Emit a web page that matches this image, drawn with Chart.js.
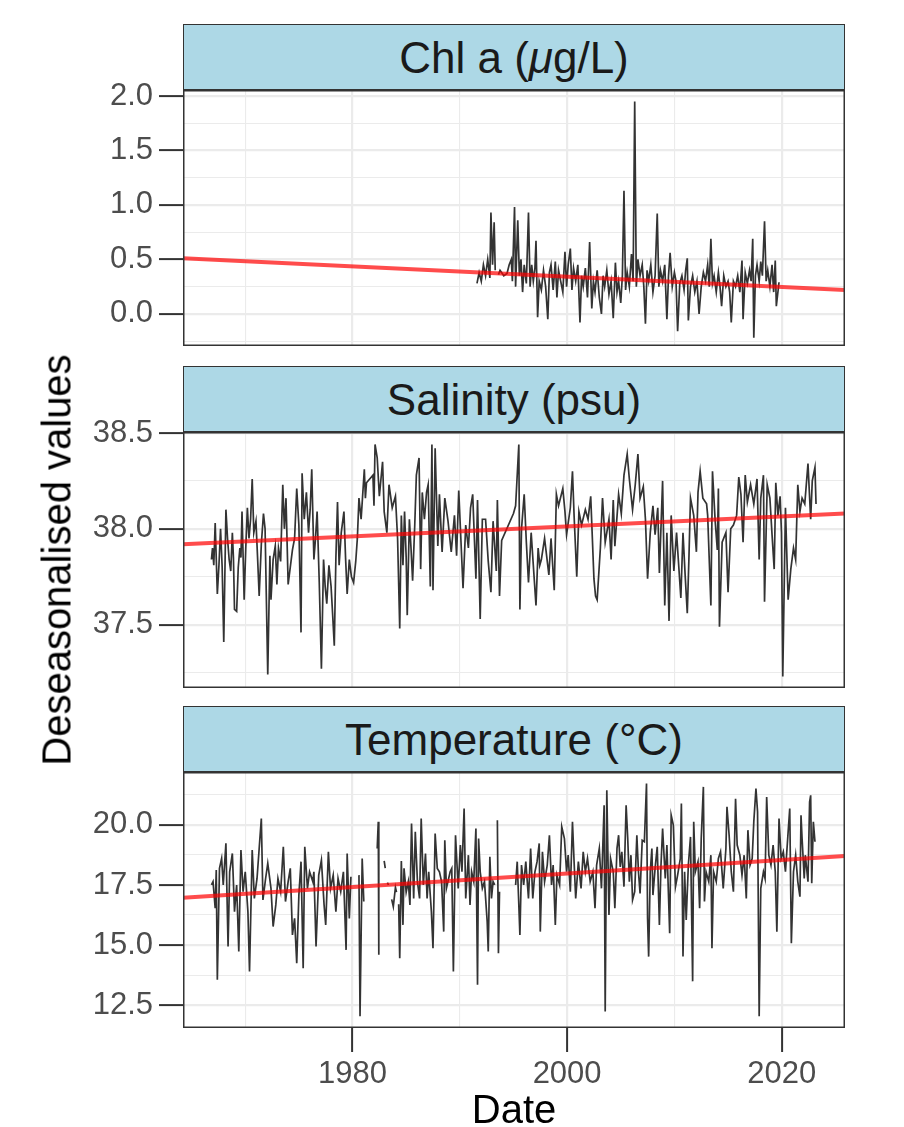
<!DOCTYPE html>
<html>
<head>
<meta charset="utf-8">
<script src="https://cdn.jsdelivr.net/npm/chart.js@4.4.1/dist/chart.umd.min.js"></script>
<style>
  body { margin: 0; background: #fff; }
  #wrap { position: relative; width: 904px; height: 1127px; overflow: hidden;
          font-family: "Liberation Sans", Arial, Helvetica, sans-serif; }
  .strip { position: absolute; left: 183px; width: 662px; height: 66px; box-sizing: border-box;
           background: #ADD8E6; border: 1.5px solid #333; color: #1A1A1A;
           font-size: 44px; line-height: 63px; padding-top: 1px; text-align: center; }
  .panel { position: absolute; left: 0; }
  #ytitle { position: absolute; left: 57px; top: 560px; transform: translate(-50%, -50%) rotate(-90deg);
            font-size: 40px; white-space: nowrap; color: #000; }
</style>
</head>
<body>
<div id="wrap">
  <div class="strip" style="top:24px">Chl a (<i>μ</i>g/L)</div>
  <canvas class="panel" id="chl" width="904" height="286" style="top:60px"></canvas>
  <div class="strip" style="top:366px">Salinity (psu)</div>
  <canvas class="panel" id="sal" width="904" height="286" style="top:402px"></canvas>
  <div class="strip" style="top:706px">Temperature (°C)</div>
  <canvas class="panel" id="temp" width="904" height="385" style="top:742px"></canvas>
  <div id="ytitle">Deseasonalised values</div>
</div>
<script>
// x axis (decimal years)
const xMin = 1964.2, xMax = 2025.9
const xGrid = [1970, 1980, 1990, 2000, 2010, 2020]
const xLabels = [1980, 2000, 2020]
const trendYears = [1964.2, 2025.9]

// Chl a
const chlTicks = [-0.25, 0, 0.25, 0.5, 0.75, 1, 1.25, 1.5, 1.75, 2]
const chlLabels = [0, 0.5, 1, 1.5, 2]
const chlTrend = [0.51, 0.22]
const chlYears = [1991.6, 1991.8, 1992.0, 1992.2, 1992.4, 1992.6, 1992.8, 1992.9, 1993.05, 1993.2, 1993.3, 1993.45,
  1993.6, 1993.75, 1994.1, 1994.4, 1994.6, 1994.8, 1994.9, 1995.1, 1995.2, 1995.4, 1995.55, 1995.7, 1995.85,
  1996.0, 1996.2, 1996.4, 1996.55, 1996.7, 1996.85, 1997.0, 1997.1, 1997.25, 1997.4, 1997.6, 1997.8, 1998.0,
  1998.2, 1998.35, 1998.5, 1998.7, 1998.9, 1999.05, 1999.2, 1999.4, 1999.6, 1999.8, 1999.95, 2000.1, 2000.3,
  2000.45, 2000.6, 2000.8, 2001.0, 2001.2, 2001.35, 2001.5, 2001.7, 2001.9, 2002.1, 2002.3, 2002.45, 2002.6,
  2002.8, 2003.0, 2003.2, 2003.35, 2003.5, 2003.7, 2003.9, 2004.1, 2004.3, 2004.5, 2004.65, 2004.8, 2005.0,
  2005.15, 2005.3, 2005.45, 2005.6, 2005.8, 2006.0, 2006.15, 2006.3, 2006.45, 2006.6, 2006.8, 2007.0, 2007.15,
  2007.3, 2007.45, 2007.6, 2007.8, 2008.0, 2008.2, 2008.4, 2008.55, 2008.7, 2008.9, 2009.1, 2009.3, 2009.45,
  2009.6, 2009.8, 2010.0, 2010.15, 2010.3, 2010.5, 2010.7, 2010.9, 2011.05, 2011.2, 2011.3, 2011.5, 2011.7,
  2011.9, 2012.1, 2012.3, 2012.5, 2012.7, 2012.9, 2013.1, 2013.25, 2013.4, 2013.55, 2013.7, 2013.9, 2014.1,
  2014.25, 2014.4, 2014.6, 2014.8, 2015.0, 2015.15, 2015.3, 2015.5, 2015.7, 2015.9, 2016.1, 2016.3, 2016.4,
  2016.6, 2016.8, 2017.0, 2017.15, 2017.3, 2017.4, 2017.55, 2017.7, 2017.9, 2018.05, 2018.2, 2018.4, 2018.55,
  2018.7, 2018.9, 2019.1, 2019.25, 2019.4, 2019.5, 2019.75]
const chlValues = [0.28, 0.38, 0.30, 0.45, 0.35, 0.50, 0.33, 0.93, 0.45, 0.84, 0.40, null,
  0.36, 0.40, 0.35, 0.37, 0.45, 0.50, 0.30, 0.98, 0.25, 0.86, 0.35, 0.50, 0.20,
  0.45, 0.28, 0.93, 0.25, 0.45, 0.30, 0.42, 0.67, -0.03, 0.30, 0.22, 0.40, 0.25,
  -0.05, 0.38, 0.45, 0.22, 0.48, 0.15, 0.40, 0.30, 0.20, 0.57, 0.25, 0.45, 0.60,
  0.22, 0.42, 0.30, 0.45, -0.08, 0.35, 0.25, 0.42, 0.15, 0.66, 0.05, 0.30, 0.20,
  0.40, 0.15, 0.00, 0.35, 0.25, 0.40, 0.18, 0.30, -0.04, 0.47, 0.20, 0.30, 0.10,
  0.35, 1.13, 0.22, 0.38, 0.25, 0.55, 0.30, 1.95, 0.25, 0.50, 0.35, 0.45, 0.25,
  -0.09, 0.40, 0.30, 0.45, 0.20, 0.35, 0.92, 0.25, 0.40, 0.30, 0.45, -0.05, 0.35,
  0.56, 0.25, 0.38, 0.30, -0.16, 0.28, 0.35, 0.22, 0.40, 0.51, -0.06, 0.25, 0.35,
  0.20, 0.30, 0.00, 0.25, 0.38, 0.30, 0.45, 0.25, 0.69, 0.28, 0.35, 0.20, 0.38,
  0.25, 0.07, 0.35, 0.25, 0.30, 0.20, -0.08, 0.30, 0.25, 0.35, 0.20, 0.49, -0.05,
  0.38, 0.28, 0.40, 0.30, 0.69, -0.22, 0.35, 0.45, 0.30, 0.48, 0.35, 0.85, 0.30,
  0.40, 0.25, 0.45, 0.20, 0.49, 0.07, 0.29]

// Salinity
const salTicks = [37.25, 37.5, 37.75, 38, 38.25, 38.5]
const salLabels = [37.5, 38, 38.5]
const salTrend = [37.92, 38.08]
const salYears = [1966.85, 1966.95, 1967.07, 1967.2, 1967.4, 1967.55, 1967.7, 1967.85, 1968.0, 1968.2, 1968.35,
  1968.5, 1968.65, 1968.8, 1968.9, 1969.0, 1969.2, 1969.35, 1969.5, 1969.6, 1969.7, 1969.9, 1970.05, 1970.2,
  1970.35, 1970.5, 1970.65, 1970.8, 1971.0, 1971.15, 1971.3, 1971.5, 1971.7, 1971.85, 1972.1, 1972.3, 1972.4,
  1972.6, 1972.8, 1972.95, 1973.1, 1973.3, 1973.5, 1973.65, 1973.8, 1974.0, 1974.2, 1974.4, 1974.6, 1974.8,
  1975.0, 1975.2, 1975.3, 1975.5, 1975.7, 1975.9, 1976.05, 1976.2, 1976.4, 1976.55, 1976.7, 1976.9, 1977.1,
  1977.3, 1977.45, 1977.6, 1977.8, 1978.0, 1978.15, 1978.3, 1978.45, 1978.6, 1978.75, 1978.95, 1979.2, 1979.35,
  1979.5, 1979.7, 1979.9, 1980.1, 1980.3, 1980.45, 1980.6, 1980.8, 1981.1, 1981.2, 1981.3, 1981.9, 1982.0,
  1982.1, 1982.3, 1982.5, 1982.8, 1982.95, 1983.2, 1983.4, 1983.7, 1984.0, 1984.2, 1984.4, 1984.55, 1984.7,
  1984.85, 1985.0, 1985.1, 1985.3, 1985.45, 1985.6, 1985.8, 1985.95, 1986.2, 1986.35, 1986.5, 1986.7, 1986.9,
  1987.05, 1987.25, 1987.4, 1987.5, 1987.7, 1987.95, 1988.1, 1988.35, 1988.6, 1988.9, 1989.2, 1989.5, 1989.7,
  1989.9, 1990.3, 1990.55, 1990.8, 1991.0, 1991.2, 1991.5, 1991.65, 1991.9, 1992.1, 1992.4, 1992.65, 1992.9,
  1993.1, 1993.4, 1993.5, 1993.7, 1993.9, 1995.0, 1995.2, 1995.5, 1995.6, 1995.75, 1996.0, 1996.2, 1996.4,
  1996.65, 1996.85, 1997.1, 1997.3, 1997.45, 1997.6, 1997.9, 1998.3, 1998.5, 1998.8, 1999.0, 1999.2, 1999.6,
  1999.8, 1999.95, 2000.3, 2000.5, 2000.65, 2000.9, 2001.1, 2001.35, 2001.7, 2001.95, 2002.2, 2002.5, 2002.65,
  2002.8, 2003.1, 2003.3, 2003.55, 2003.9, 2004.1, 2004.3, 2004.45, 2004.8, 2005.05, 2005.3, 2005.6, 2005.8,
  2006.1, 2006.35, 2006.6, 2006.8, 2007.1, 2007.3, 2007.5, 2007.75, 2008.0, 2008.2, 2008.45, 2008.6, 2008.9,
  2009.1, 2009.3, 2009.5, 2009.7, 2009.95, 2010.2, 2010.4, 2010.6, 2010.8, 2011.0, 2011.2, 2011.35, 2011.5,
  2011.8, 2012.05, 2012.2, 2012.4, 2012.65, 2013.0, 2013.1, 2013.4, 2013.55, 2013.8, 2014.0, 2014.1, 2014.2,
  2014.45, 2014.8, 2015.0, 2015.25, 2015.5, 2015.8, 2016.0, 2016.2, 2016.4, 2016.6, 2016.8, 2017.1, 2017.4,
  2017.7, 2017.9, 2018.05, 2018.3, 2018.4, 2018.65, 2018.9, 2019.1, 2019.3, 2019.45, 2019.65, 2019.85, 2019.98,
  2020.1, 2020.35, 2020.6, 2020.85, 2021.1, 2021.3, 2021.5, 2021.7, 2021.9, 2022.15, 2022.45, 2022.7, 2022.85,
  2023.1, 2023.2]
const salValues = [37.84, 37.90, 37.81, 38.03, 37.66, 37.81, 38.00, 37.80, 37.41, 38.10, 37.95,
  37.84, 37.78, 37.98, 37.85, 37.58, 37.57, 37.80, 37.90, 37.85, 38.09, 37.63, 37.90, 38.11,
  37.95, 38.05, 38.26, 37.98, 38.04, 37.85, 37.65, 37.92, 38.08, 38.00, 37.24, 37.86, 37.63,
  37.84, 37.91, 37.71, 37.90, 37.83, 38.23, 38.00, 38.16, 37.71, 37.80, 37.89, 37.95, 38.21,
  38.02, 37.46, 38.29, 38.05, 38.19, 37.98, 38.10, 38.31, 37.84, 37.95, 38.09, 37.72, 37.27,
  37.84, 37.70, 37.61, 37.81, 37.70, 37.55, 37.39, 37.85, 38.14, 37.81, 37.98, 38.09, 37.85,
  37.66, 37.84, 37.75, 37.72, 37.83, 37.95, 38.16, 38.05, 38.31, 38.16, 38.24, 38.28, 38.12,
  38.44, 38.37, 38.17, 38.35, 38.09, 37.98, 38.23, 38.11, 38.17, 37.95, 37.48, 38.07, 37.81,
  38.09, 37.85, 37.55, 38.05, 37.90, 37.73, 38.02, 38.28, 38.37, 37.79, 38.19, 38.05, 38.19,
  38.23, 37.70, 38.44, 37.68, 38.42, 37.91, 38.18, 37.88, 38.16, 38.04, 37.88, 38.07, 37.86,
  38.20, 37.69, 38.02, 37.90, 38.11, 38.18, 37.74, 38.15, 37.53, 38.05, 38.05, 37.83, 37.67,
  38.04, 37.78, 38.15, 37.65, 37.94, 38.08, 38.12, 38.44, 37.58, 38.00, 38.18, 37.93, 37.72,
  37.98, 37.81, 37.60, 37.90, 37.81, 37.84, 37.95, 37.76, 37.95, 37.68, 38.18, 38.12, 38.21,
  38.09, 37.97, 38.11, 38.30, 38.07, 37.75, 38.09, 38.02, 38.10, 38.05, 38.17, 37.74, 37.65,
  37.63, 37.90, 38.16, 37.93, 38.05, 37.84, 38.15, 37.91, 38.18, 38.08, 38.28, 38.39, 38.26,
  38.10, 38.23, 38.39, 38.16, 38.22, 38.05, 37.74, 37.98, 38.12, 37.97, 38.11, 37.77, 38.25,
  37.60, 37.98, 37.52, 38.07, 37.78, 37.98, 37.81, 37.64, 37.98, 37.76, 37.56, 37.84, 38.16,
  38.07, 37.88, 38.19, 38.30, 38.16, 38.13, 38.07, 37.60, 38.30, 38.04, 37.89, 38.21, 37.49,
  37.93, 37.98, 37.67, 38.00, 38.02, 38.07, 38.27, 38.18, 37.93, 38.28, 38.14, 38.23, 38.13,
  38.26, 37.84, 38.16, 38.28, 37.62, 38.23, 38.16, 37.97, 37.79, 38.24, 38.07, 38.17, 37.98,
  37.23, 38.11, 37.63, 37.79, 37.90, 37.84, 38.23, 38.09, 38.16, 38.13, 38.34, 38.05, 38.25,
  38.32, 38.13]

// Temperature (null = no data)
const tempTicks = [13.75, 12.5, 15, 16.25, 17.5, 18.75, 20, 21.25]
const tempLabels = [12.5, 15, 17.5, 20]
const tempTrend = [16.97, 18.71]
const tempYears = [1966.85, 1967.0, 1967.2, 1967.3, 1967.4, 1967.6, 1967.8, 1967.95, 1968.2, 1968.4, 1968.55,
  1968.8, 1969.0, 1969.2, 1969.4, 1969.6, 1969.8, 1970.0, 1970.25, 1970.4, 1970.65, 1970.85, 1971.1, 1971.3,
  1971.5, 1971.65, 1971.9, 1972.1, 1972.4, 1972.6, 1972.85, 1973.05, 1973.3, 1973.55, 1973.75, 1974.0, 1974.2,
  1974.4, 1974.6, 1974.8, 1975.0, 1975.2, 1975.4, 1975.55, 1975.8, 1976.0, 1976.3, 1976.4, 1976.6, 1976.85,
  1977.1, 1977.35, 1977.5, 1977.75, 1977.95, 1978.2, 1978.45, 1978.65, 1978.9, 1979.15, 1979.4, 1979.5, 1979.7,
  1979.85, 1980.2, 1980.6, 1980.7, 1980.9, 1981.05, 1981.6, 1982.3, 1982.4, 1982.45, 1982.7, 1982.95, 1983.05,
  1983.15, 1983.25, 1983.35, 1983.5, 1983.65, 1983.8, 1984.0, 1984.1, 1984.2, 1984.3, 1984.4, 1984.55, 1984.7,
  1984.8, 1985.0, 1985.2, 1985.35, 1985.5, 1985.7, 1985.85, 1986.05, 1986.25, 1986.4, 1986.6, 1986.8, 1986.95,
  1987.1, 1987.35, 1987.5, 1987.7, 1987.9, 1988.1, 1988.3, 1988.5, 1988.6, 1988.75, 1989.1, 1989.25, 1989.4,
  1989.6, 1989.85, 1990.05, 1990.2, 1990.4, 1990.55, 1990.8, 1990.95, 1991.1, 1991.3, 1991.5, 1991.65, 1991.75,
  1991.9, 1992.1, 1992.3, 1992.55, 1992.65, 1992.8, 1992.95, 1993.1, 1993.25, 1993.35, 1993.5, 1993.6, 1993.7,
  1994.5, 1995.2, 1995.35, 1995.5, 1995.6, 1995.75, 1995.95, 1996.15, 1996.4, 1996.6, 1996.8, 1997.0, 1997.2,
  1997.4, 1997.5, 1997.7, 1997.9, 1998.15, 1998.35, 1998.55, 1998.7, 1998.9, 1999.05, 1999.3, 1999.5, 1999.75,
  1999.95, 2000.1, 2000.3, 2000.5, 2000.65, 2000.8, 2001.05, 2001.3, 2001.5, 2001.7, 2001.9, 2002.15, 2002.4,
  2002.6, 2002.75, 2003.0, 2003.2, 2003.45, 2003.55, 2003.7, 2003.9, 2004.05, 2004.3, 2004.45, 2004.65, 2004.8,
  2004.95, 2005.1, 2005.3, 2005.5, 2005.65, 2005.8, 2005.95, 2006.1, 2006.3, 2006.5, 2006.65, 2006.8, 2007.0,
  2007.2, 2007.4, 2007.5, 2007.6, 2007.75, 2007.9, 2008.0, 2008.2, 2008.4, 2008.6, 2008.75, 2008.9, 2009.15,
  2009.3, 2009.56, 2009.7, 2009.9, 2010.1, 2010.3, 2010.55, 2010.65, 2010.8, 2010.95, 2011.1, 2011.3, 2011.5,
  2011.7, 2011.8, 2011.95, 2012.2, 2012.35, 2012.5, 2012.7, 2012.8, 2012.95, 2013.2, 2013.4, 2013.5, 2013.65,
  2013.9, 2014.1, 2014.3, 2014.55, 2014.8, 2014.9, 2015.1, 2015.3, 2015.5, 2015.7, 2015.85, 2016.1, 2016.3,
  2016.5, 2016.7, 2016.85, 2017.05, 2017.25, 2017.4, 2017.6, 2017.75, 2017.9, 2018.05, 2018.3, 2018.45, 2018.6,
  2018.8, 2019.0, 2019.2, 2019.4, 2019.55, 2019.75, 2019.95, 2020.15, 2020.35, 2020.6, 2020.75, 2020.9, 2021.1,
  2021.3, 2021.5, 2021.7, 2021.8, 2021.9, 2022.1, 2022.2, 2022.45, 2022.6, 2022.7, 2022.8, 2022.95, 2023.1]
const tempValues = [17.50, 17.64, 16.53, 18.12, 13.56, 18.19, 18.60, 17.50, 19.23, 14.94, 18.05,
  18.81, 16.39, 17.50, 14.73, 18.95, 17.22, 18.05, 16.39, 13.90, 18.95, 16.94, 17.77, 19.02,
  20.26, 16.88, 17.77, 18.40, 17.36, 15.77, 16.67, 17.77, 17.22, 19.09, 16.81, 17.64, 18.19,
  15.42, 16.11, 14.25, 17.08, 18.47, 14.04, 19.09, 17.36, 18.05, 17.64, 18.05, 14.94, 17.91,
  18.53, 16.67, 15.84, 18.88, 17.36, 17.91, 16.39, 17.77, 17.22, 18.05, 14.80, 18.81, 16.11,
  17.84, null, 17.91, 12.04, 18.60, 16.81, null, 19.02, 20.13, 14.60, null, 18.50, 18.20,
  null, 17.60, 17.50, null, 16.90, 16.60, 17.40, 17.20, null, 16.70, 14.45, 18.50, 15.84,
  18.19, 17.20, 17.64, 16.67, 20.06, 16.94, 19.71, 17.64, 16.94, 20.26, 17.50, 18.81, 16.94,
  18.05, 16.39, 14.87, 19.64, 18.19, 18.05, 17.64, 15.56, 19.36, 17.36, 18.05, 18.19, 13.90,
  19.57, 17.36, 19.16, 18.05, 20.68, 16.94, 18.74, 16.67, 18.05, 17.64, 19.85, 13.35, 19.43,
  18.05, 17.36, 17.64, 15.98, 14.73, 18.67, 16.94, 17.64, 17.50, null, 20.19, 14.66, 17.22,
  null, 17.50, 18.47, 16.67, 15.42, 18.33, 17.50, 18.47, 16.94, 19.02, 16.94, 18.05, 18.47,
  19.23, 15.56, 18.88, 17.64, 18.33, 19.57, 17.50, 18.33, 15.84, 17.91, 17.50, 19.92, 19.43,
  18.05, 18.74, 17.22, 20.13, 18.47, 16.94, 18.47, 17.36, 18.88, 18.05, 18.60, 17.64, 18.05,
  16.53, 18.33, 19.02, 17.36, 20.82, 12.24, 21.44, 16.25, 18.60, 18.05, 16.53, 19.02, 19.57,
  18.25, 18.88, 17.43, 20.82, 19.43, 17.64, 18.74, 16.88, 17.22, 19.57, 18.05, 17.15, 19.36,
  19.30, 21.72, 16.11, 14.52, 18.05, 19.02, 17.08, 18.19, 19.09, 15.84, 18.33, 19.85, 17.77,
  19.16, 15.49, 20.40, 19.99, 17.43, 17.91, 18.60, 20.89, 14.52, 18.05, 16.04, 18.33, 19.50,
  13.49, 20.13, 18.05, 18.47, 16.53, 19.43, 21.58, 16.81, 18.05, 17.64, 18.74, 14.87, 18.05,
  17.64, 18.60, 18.88, 17.36, 19.02, 20.75, 19.57, 18.05, 17.22, 21.09, 19.16, 18.74, 17.91,
  18.74, 16.94, 19.78, 18.33, 18.60, 20.13, 21.51, 20.54, 12.04, 17.36, 18.05, 17.77, 21.16,
  18.74, 18.33, 19.16, 18.05, 15.56, 20.26, 18.60, 18.88, 18.05, 19.71, 20.68, 15.08, 18.05,
  18.74, 17.64, 17.01, 20.40, 19.43, 17.77, 18.74, 17.64, 20.95, 21.23, 17.57, 20.13, 19.30]

const FONT = "'Liberation Sans', Arial, Helvetica, sans-serif"

function points(xs, ys) {
  return xs.map((x, i) => ({ x: x, y: ys[i] }))
}

function gridFor(majors, drawTicks) {
  return {
    color: "#EBEBEB",
    lineWidth: (c) => (c.tick && majors.includes(c.tick.value) ? 2.2 : 1.1),
    drawTicks: drawTicks,
    tickLength: 24,
    tickWidth: 2,
    tickColor: (c) => (c.tick && majors.includes(c.tick.value) ? "#333333" : "rgba(0,0,0,0)"),
  }
}

const panelBorder = {
  id: "panelBorder",
  afterDatasetsDraw(chart) {
    const a = chart.chartArea
    const ctx = chart.ctx
    ctx.save()
    ctx.strokeStyle = "#333333"
    ctx.lineWidth = 1.5
    ctx.strokeRect(a.left + 0.75, a.top + 0.75, a.right - a.left - 1.5, a.bottom - a.top - 1.5)
    ctx.restore()
  },
}

// canvases start 30px above the panel so the top tick label is not cut
const TOP_PAD = 30

function makePanel(id, o) {
  const xAxis = {
    type: "linear",
    min: xMin,
    max: xMax,
    afterBuildTicks: (s) => { s.ticks = xGrid.map((v) => ({ value: v })) },
    afterFit: (s) => {
      s.paddingLeft = 0
      s.paddingRight = 0
      if (o.showX) s.height = 99
    },
    grid: gridFor(xLabels, o.showX),
    border: { display: false },
    ticks: {
      display: o.showX,
      autoSkip: false,
      maxRotation: 0,
      padding: 4,
      color: "#4D4D4D",
      font: { family: FONT, size: 31 },
      callback: (v) => (xLabels.includes(v) ? String(v) : ""),
    },
  }
  if (o.showX) {
    xAxis.title = {
      display: true,
      text: "Date",
      color: "#000000",
      font: { family: FONT, size: 40, lineHeight: 0.75 },
      padding: { top: 0, bottom: 0 },
    }
  }

  return new Chart(document.getElementById(id), {
    type: "line",
    data: {
      datasets: [
        {
          data: points(trendYears, o.trend),
          borderColor: "rgba(255,0,0,0.7)",
          borderWidth: 4,
          pointRadius: 0,
          order: 0,
        },
        {
          data: points(o.years, o.values),
          borderColor: "#333333",
          borderWidth: 1.7,
          pointRadius: 0,
          spanGaps: false,
          order: 1,
        },
      ],
    },
    options: {
      responsive: false,
      animation: false,
      devicePixelRatio: 1,
      layout: { autoPadding: false, padding: { left: 0, right: 59, top: TOP_PAD, bottom: 0 } },
      plugins: { legend: { display: false }, tooltip: { enabled: false } },
      elements: { line: { tension: 0 } },
      scales: {
        x: xAxis,
        y: {
          type: "linear",
          min: o.min,
          max: o.max,
          afterBuildTicks: (s) => { s.ticks = o.ticks.slice().sort((a, b) => a - b).map((v) => ({ value: v })) },
          afterFit: (s) => {
            s.width = 183
            s.paddingTop = 0
            s.paddingBottom = 0
          },
          grid: gridFor(o.labels, true),
          border: { display: false },
          ticks: {
            autoSkip: false,
            padding: 6,
            color: "#4D4D4D",
            font: { family: FONT, size: 31 },
            callback: (v) => (o.labels.includes(v) ? v.toFixed(1) : ""),
          },
        },
      },
    },
    plugins: [panelBorder],
  })
}

makePanel("chl", { years: chlYears, values: chlValues, trend: chlTrend, ticks: chlTicks, labels: chlLabels,
  min: -0.295, max: 2.055, showX: false })
makePanel("sal", { years: salYears, values: salValues, trend: salTrend, ticks: salTicks, labels: salLabels,
  min: 37.17, max: 38.505, showX: false })
makePanel("temp", { years: tempYears, values: tempValues, trend: tempTrend, ticks: tempTicks, labels: tempLabels,
  min: 11.55, max: 22.2, showX: true })
</script>
</body>
</html>
